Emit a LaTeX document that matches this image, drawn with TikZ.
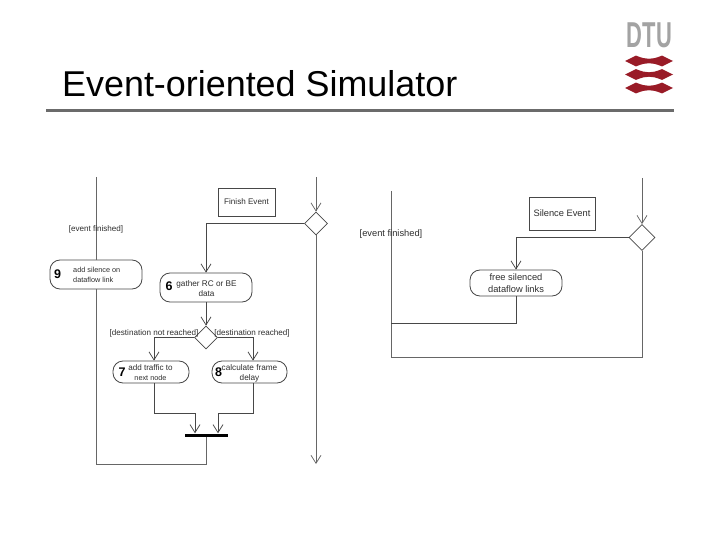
\documentclass[tikz,border=0pt]{standalone}
\usepackage{fontspec}
\setmainfont{Liberation Sans}
\usetikzlibrary{arrows.meta,shapes.geometric,calc}
\definecolor{dturred}{HTML}{991B27}
\definecolor{ink}{gray}{0.18}
\tikzset{
  flow/.style={draw=black!72,line width=0.85pt},
  arr/.style={flow,-{Straight Barb[length=8pt,width=10pt,line width=0.75pt]}},
  lane/.style={draw=black!60,line width=1pt},
  lanearr/.style={lane,-{Straight Barb[length=8pt,width=10pt,line width=0.75pt]}},
  decide/.style={diamond,draw=black!72,line width=0.8pt,fill=white,aspect=1,inner sep=0pt},
  action/.style={draw=black!72,line width=0.8pt,rounded corners=10pt,fill=white,inner sep=0pt,align=center,text=ink},
  note/.style={draw=black!72,line width=0.8pt,fill=white,inner sep=0pt,align=center,text=ink},
  lbl/.style={inner sep=0pt,text=ink,align=center},
  num/.style={inner sep=0pt,text=black,font=\bfseries\fontsize{12.5}{12.5}\selectfont},
  fsa/.style={font=\fontsize{8.1}{10}\selectfont},
  fsb/.style={font=\fontsize{8.2}{10}\selectfont},
  fss/.style={font=\fontsize{7.3}{9.4}\selectfont},
  fsc/.style={font=\fontsize{9.3}{11.6}\selectfont},
}
\begin{document}
\begin{tikzpicture}[x=1pt,y=-1pt]
\useasboundingbox (0,0) rectangle (720,540);
% title and rule
\node[anchor=base west,inner sep=0pt,text=black,font=\fontsize{35.9}{38}\selectfont] (title) at (62,97) {Event-oriented Simulator};
\coordinate (ruleL) at (46,111);
\coordinate (ruleR) at (674,111);
\draw[line width=3pt,black!58] (ruleL) -- (ruleR);
% logo
\node[inner sep=0pt,text=black!36,font=\bfseries\fontsize{36}{36}\selectfont] (dtu) at (649.5,35.5) {\scalebox{.61}[1]{DTU}};
\foreach \yy in {61,74.5,88}{
  \fill[dturred] (625,\yy) -- (636,\yy-5.4) .. controls (642,\yy-3) and (645,\yy-2.2) .. (649,\yy-2.2)
    .. controls (653,\yy-2.2) and (656,\yy-3) .. (662,\yy-5.4) -- (673,\yy) -- (662,\yy+5.4)
    .. controls (656,\yy+3) and (653,\yy+2.2) .. (649,\yy+2.2)
    .. controls (645,\yy+2.2) and (642,\yy+3) .. (636,\yy+5.4) -- cycle;
}
% ---- left diagram
\coordinate (laneA) at (96,177);
\coordinate (laneB) at (316,177);
\coordinate (endB) at (316,464);
\coordinate (bend) at (96,464);
\node[note,fsa,minimum width=57pt,minimum height=28pt] (finish) at (246.5,202) {Finish Event};
\node[decide,minimum width=23pt,minimum height=23pt] (d1) at (316,223.5) {};
\node[action,minimum width=92pt,minimum height=29pt] (b9) at (96,274.5) {};
\node[action,minimum width=92pt,minimum height=29pt] (b6) at (206,287.5) {};
\node[decide,minimum width=23pt,minimum height=23pt] (d2) at (206,337.5) {};
\node[action,minimum width=76pt,minimum height=22pt] (b7) at (151,372) {};
\node[action,minimum width=75pt,minimum height=22pt] (b8) at (249.5,372) {};
\node[fill=black,inner sep=0pt,minimum width=43pt,minimum height=3pt] (bar) at (206,435) {};
\coordinate (j7) at (195,413);
\coordinate (j8) at (218,413);
\draw[lane] (laneA) -- (b9.north);
\draw[lane] (b9.south) -- (bend) -| (bar.south);
\draw[lanearr] (laneB) -- (d1.north);
\draw[lanearr] (d1.south) -- (endB);
\draw[arr] (d1.west) -| (b6.north);
\draw[arr] (b6.south) -- (d2.north);
\draw[arr] (d2.west) -| ([xshift=3pt]b7.north);
\draw[arr] (d2.east) -| ([xshift=3.5pt]b8.north);
\draw[arr] ([xshift=3pt]b7.south) |- (j7) -- (j7 |- bar.north);
\draw[arr] ([xshift=3.5pt]b8.south) |- (j8) -- (j8 |- bar.north);
\node[lbl,fsa] (evA) at (96,229.5) {[event finished]};
\node[lbl,fss,align=left,anchor=west] (t9) at (73,275) {add silence on\\dataflow link};
\node[num] (n9) at (57.5,274.5) {9};
\node[lbl,fsb] (t6) at (206.5,288.5) {gather RC or BE\\data};
\node[num] (n6) at (169,286.5) {6};
\node[lbl,fsa] (t7) at (150.5,372.5) {add traffic to\\{\fontsize{7.3}{10}\selectfont next node}};
\node[num] (n7) at (122,372.5) {7};
\node[lbl,fsb] (t8) at (249.5,373.5) {calculate frame\\delay};
\node[num] (n8) at (218.5,372.5) {8};
\node[lbl,fsa] (gl) at (154,333) {[destination not reached]};
\node[lbl,fsa] (gr) at (252,333) {[destination reached]};
% ---- right diagram
\coordinate (laneC) at (391,191);
\coordinate (cornerC) at (391,357);
\coordinate (laneD) at (642,178);
\coordinate (joinC) at (391,323);
\node[note,fsc,minimum width=66pt,minimum height=33pt] (silence) at (562,213.5) {Silence Event};
\node[decide,minimum width=26pt,minimum height=26pt] (d3) at (642,237.5) {};
\node[action,fsc,minimum width=92pt,minimum height=26pt] (b10) at (516,283) {free silenced\\dataflow links};
\draw[lane] (laneC) -- (cornerC) -| (d3.south);
\draw[lanearr] (laneD) -- (d3.north);
\draw[arr] (d3.west) -| (b10.north);
\draw[flow] (b10.south) |- (joinC);
\node[lbl,fsc] (evC) at (391,234) {[event finished]};
\end{tikzpicture}
\end{document}
